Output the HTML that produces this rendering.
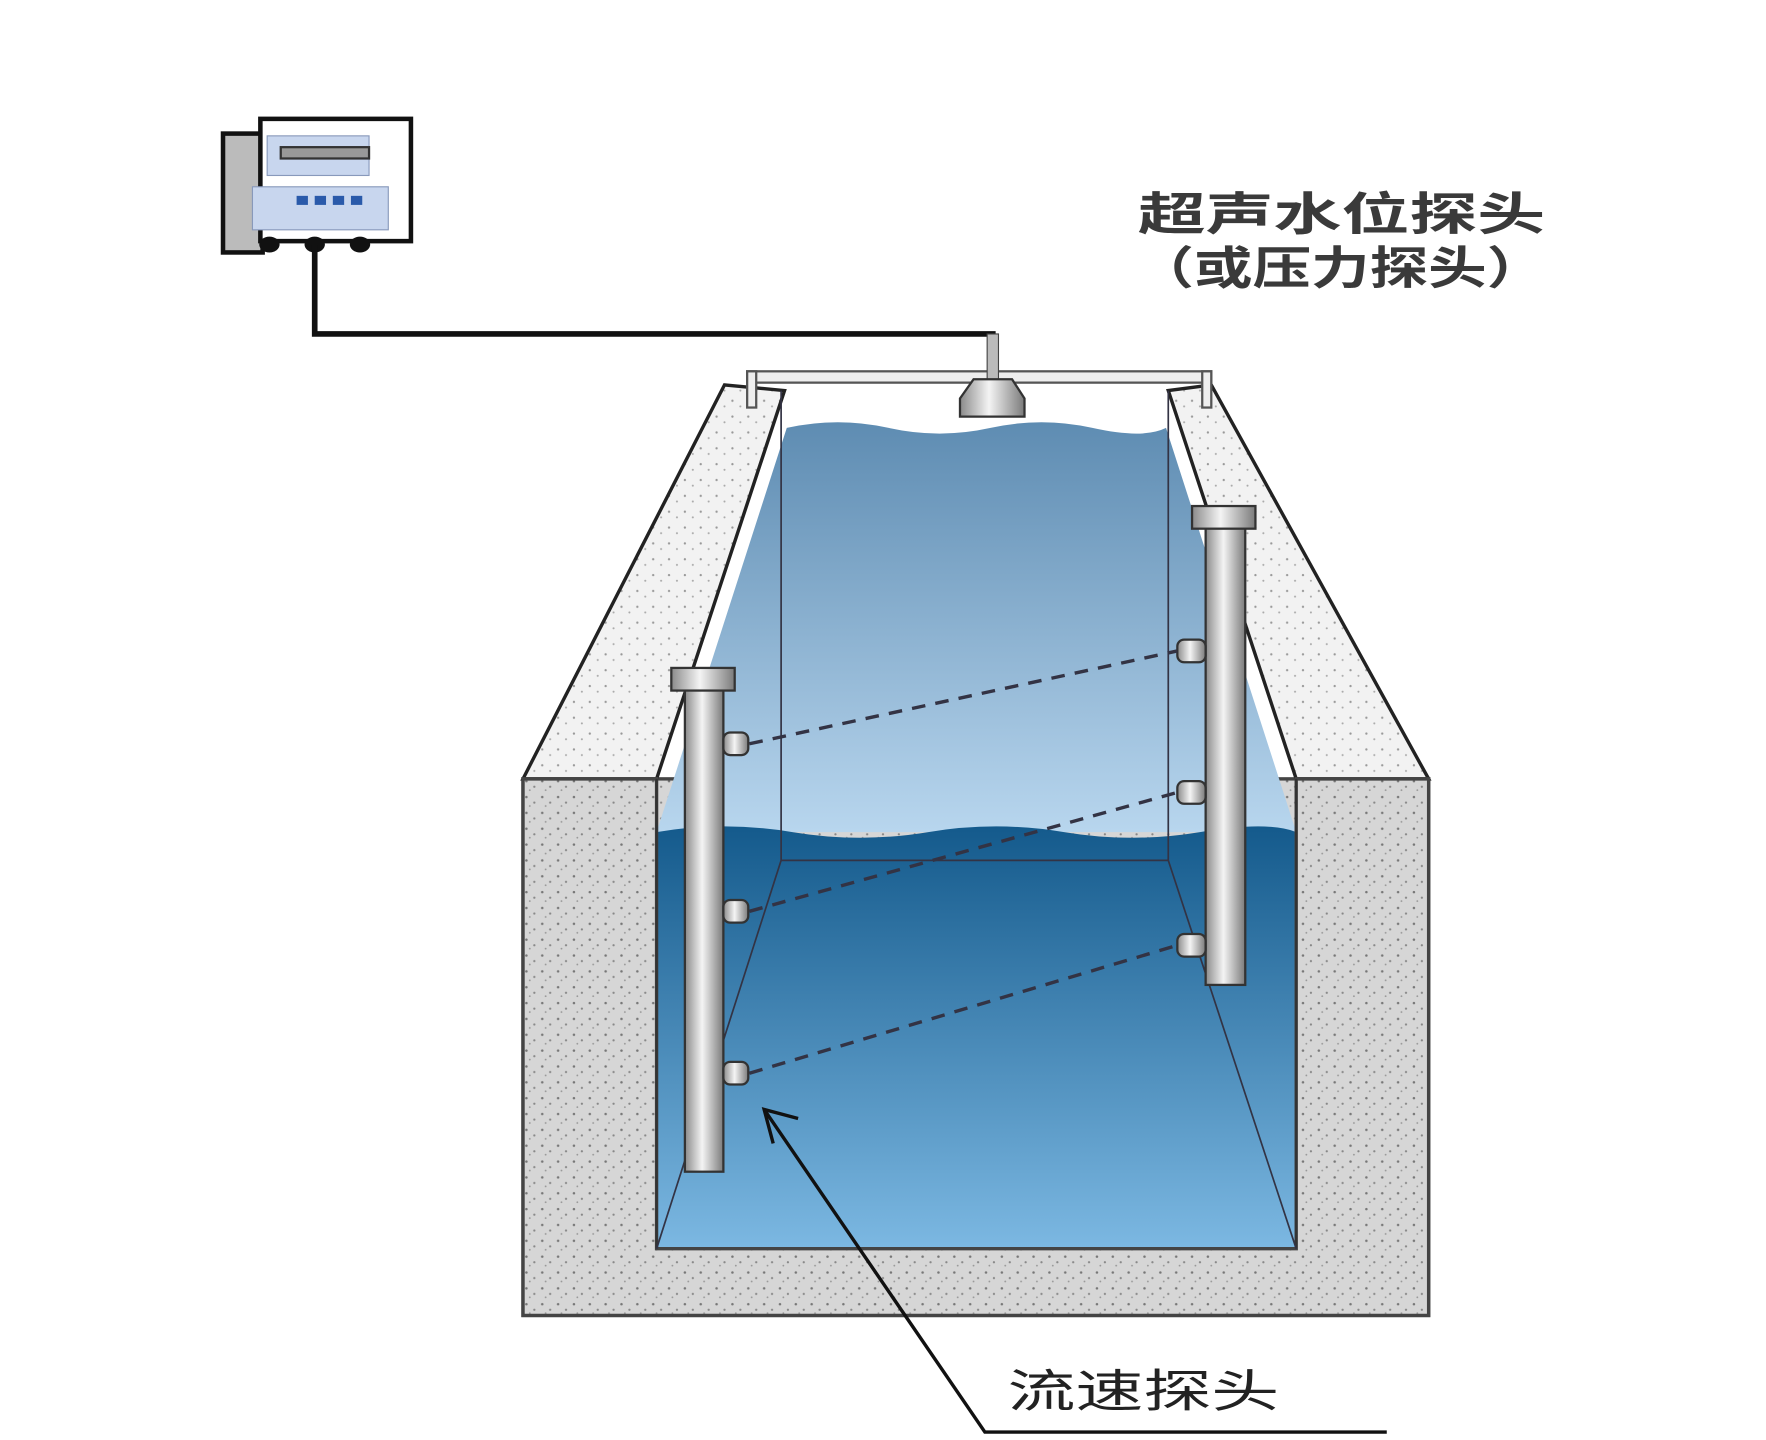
<!DOCTYPE html>
<html><head><meta charset="utf-8"><style>
html,body{margin:0;padding:0;background:#fff;}
svg{display:block}
text{font-family:"Liberation Sans","Noto Sans CJK SC",sans-serif;}
</style></head><body>
<svg width="1766" height="1440" viewBox="0 0 1560 1272" preserveAspectRatio="none" xmlns="http://www.w3.org/2000/svg">
<defs>
<pattern id="dots" width="14" height="14" patternUnits="userSpaceOnUse">
<rect width="14" height="14" fill="#d6d6d6"/>
<circle cx="3" cy="4" r="1.1" fill="#777"/><circle cx="10" cy="9" r="1" fill="#888"/><circle cx="6" cy="12" r="0.8" fill="#999"/>
</pattern>
<pattern id="dots2" width="14" height="14" patternUnits="userSpaceOnUse">
<rect width="14" height="14" fill="#f2f2f2"/>
<circle cx="3" cy="4" r="1" fill="#999"/><circle cx="10" cy="9" r="0.9" fill="#aaa"/>
</pattern>
<linearGradient id="w1" x1="0" y1="0" x2="0" y2="1"><stop offset="0" stop-color="#5e8cb2"/><stop offset="1" stop-color="#b8d6ee"/></linearGradient>
<linearGradient id="w2" x1="0" y1="0" x2="0" y2="1"><stop offset="0" stop-color="#145a8c"/><stop offset="1" stop-color="#7cb8e2"/></linearGradient>
<linearGradient id="pipe" x1="0" y1="0" x2="1" y2="0"><stop offset="0" stop-color="#8a8a8a"/><stop offset=".45" stop-color="#f4f4f4"/><stop offset="1" stop-color="#7a7a7a"/></linearGradient>
</defs>
<!-- controller -->
<rect x="197" y="118" width="35" height="105" fill="#bbb" stroke="#111" stroke-width="4"/>
<rect x="230" y="105" width="133" height="108" fill="#fff" stroke="#111" stroke-width="4"/>
<rect x="236" y="120" width="90" height="35" fill="#c8d6ee" stroke="#8899bb"/>
<rect x="248" y="130" width="78" height="10" fill="#999" stroke="#333" stroke-width="2"/>
<rect x="223" y="165" width="120" height="38" fill="#c8d6ee" stroke="#8899bb"/>
<rect x="262" y="173" width="10" height="8" fill="#2a5aaa"/><rect x="278" y="173" width="10" height="8" fill="#2a5aaa"/><rect x="294" y="173" width="10" height="8" fill="#2a5aaa"/><rect x="310" y="173" width="10" height="8" fill="#2a5aaa"/>
<ellipse cx="238" cy="216" rx="9" ry="7" fill="#111"/><ellipse cx="278" cy="216" rx="9" ry="7" fill="#111"/><ellipse cx="318" cy="216" rx="9" ry="7" fill="#111"/>
<path d="M278 216 V295 H877 V345" fill="none" stroke="#111" stroke-width="5"/>
<!-- concrete -->
<rect x="462" y="688" width="800" height="474" fill="url(#dots)" stroke="#444" stroke-width="3"/>
<polygon points="462,688 640,340 693,345 580,688" fill="url(#dots2)" stroke="#222" stroke-width="3"/>
<polygon points="1262,688 1070,340 1032,345 1145,688" fill="url(#dots2)" stroke="#222" stroke-width="3"/>
<!-- water -->
<path d="M695,378 Q740,368 785,378 T875,378 T965,378 T1030,378 L1145,735 L580,735 Z" fill="url(#w1)"/>
<path d="M580,735 Q640,725 700,735 T820,735 T940,735 T1060,735 T1145,735 L1145,1103 L580,1103 Z" fill="url(#w2)"/>
<polygon points="462,688 580,688 580,1103 1145,1103 1145,688 1262,688 1262,1162 462,1162" fill="url(#dots)" stroke="#444" stroke-width="3"/>
<line x1="580" y1="688" x2="580" y2="1103" stroke="#333" stroke-width="2"/>
<line x1="1145" y1="688" x2="1145" y2="1103" stroke="#333" stroke-width="2"/>
<g stroke="#334" stroke-width="1.5" fill="none">
<line x1="690" y1="345" x2="690" y2="760"/><line x1="1032" y1="345" x2="1032" y2="760"/>
<line x1="690" y1="760" x2="1032" y2="760"/><line x1="690" y1="760" x2="580" y2="1103"/><line x1="1032" y1="760" x2="1145" y2="1103"/>
</g>
<!-- bar + sensor -->
<rect x="660" y="328" width="410" height="10" fill="#eee" stroke="#555" stroke-width="2"/>
<rect x="660" y="328" width="8" height="32" fill="#eee" stroke="#555" stroke-width="2"/>
<rect x="1062" y="328" width="8" height="32" fill="#eee" stroke="#555" stroke-width="2"/>
<rect x="872" y="295" width="10" height="40" fill="#bbb" stroke="#444"/>
<path d="M860,335 H894 L905,352 V368 H848 V352 Z" fill="url(#pipe)" stroke="#333" stroke-width="2"/>
<!-- poles -->
<rect x="605" y="605" width="34" height="430" fill="url(#pipe)" stroke="#333" stroke-width="2"/>
<rect x="593" y="590" width="56" height="20" fill="url(#pipe)" stroke="#333" stroke-width="2"/>
<rect x="1065" y="460" width="35" height="410" fill="url(#pipe)" stroke="#333" stroke-width="2"/>
<rect x="1053" y="447" width="56" height="20" fill="url(#pipe)" stroke="#333" stroke-width="2"/>
<g fill="url(#pipe)" stroke="#333" stroke-width="2">
<rect x="639" y="647" width="22" height="20" rx="6"/><rect x="639" y="795" width="22" height="20" rx="6"/><rect x="639" y="938" width="22" height="20" rx="6"/>
<rect x="1040" y="565" width="25" height="20" rx="6"/><rect x="1040" y="690" width="25" height="20" rx="6"/><rect x="1040" y="825" width="25" height="20" rx="6"/>
</g>
<g stroke="#334" stroke-width="3" stroke-dasharray="12,9" fill="none">
<line x1="662" y1="657" x2="1040" y2="575"/><line x1="662" y1="805" x2="1040" y2="700"/><line x1="662" y1="948" x2="1040" y2="835"/>
</g>
<!-- pointer -->
<path d="M1225,1265 H870 L675,980" fill="none" stroke="#111" stroke-width="3"/>
<path d="M705,988 L675,980 L683,1010" fill="none" stroke="#111" stroke-width="3"/>
<text x="1005" y="203" font-size="40" font-weight="bold" fill="#3a3a3a" textLength="360" lengthAdjust="spacingAndGlyphs">超声水位探头</text>
<text x="1003" y="251" font-size="40" font-weight="bold" fill="#3a3a3a" textLength="362" lengthAdjust="spacingAndGlyphs">（或压力探头）</text>
<text x="890" y="1243" font-size="40" fill="#222" textLength="240" lengthAdjust="spacingAndGlyphs">流速探头</text>
</svg>
</body></html>
